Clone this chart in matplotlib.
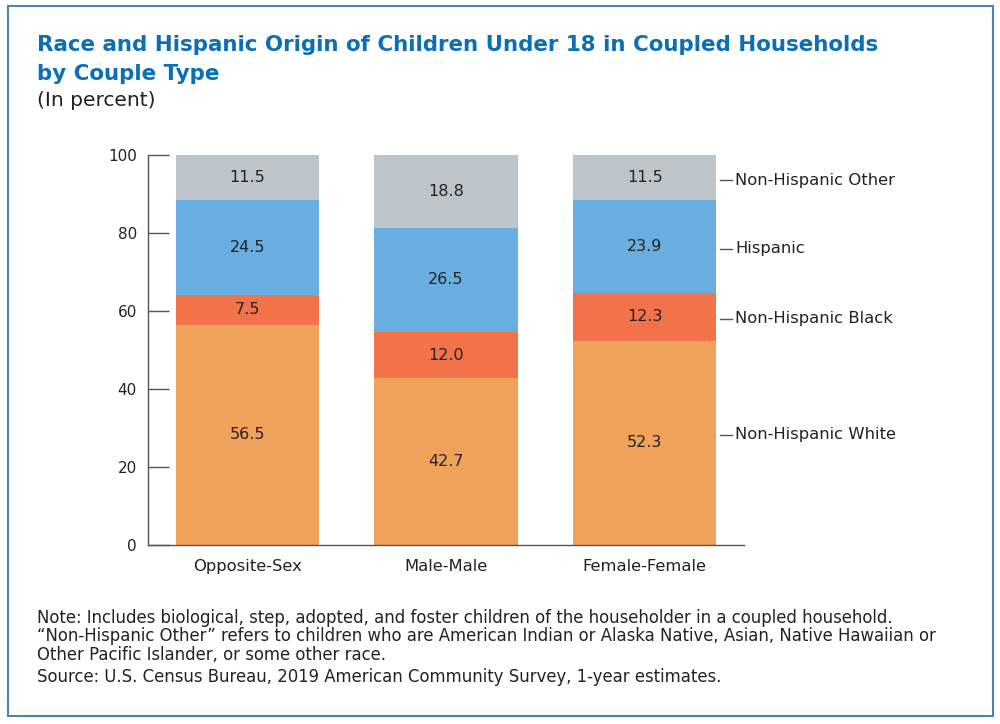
import matplotlib
matplotlib.use("Agg")
import matplotlib.pyplot as plt
from matplotlib.patches import Rectangle

# Data
couple_types = ["Opposite-Sex", "Male-Male", "Female-Female"]
groups = ["Non-Hispanic White", "Non-Hispanic Black", "Hispanic", "Non-Hispanic Other"]
white = [56.5, 42.7, 52.3]
black = [7.5, 12.0, 12.3]
hispanic = [24.5, 26.5, 23.9]
other = [11.5, 18.8, 11.5]
label_y = [28.2, 58.0, 76.0, 93.5]

colors = ["#f0a15a", "#f27249", "#68aee0", "#bdc5cb"]

plt.rcParams["font.family"] = ["DejaVu Sans"]

fig = plt.figure(figsize=(10, 7.24), dpi=100)
ax = fig.add_axes([0.148, 0.2473, 0.596, 0.5387])

series = [white, black, hispanic, other]
x = range(len(couple_types))
bottom = [0, 0, 0]
for vals, col in zip(series, colors):
    ax.bar(x, vals, width=0.72, bottom=bottom, color=col, edgecolor="none")
    for i, v in enumerate(vals):
        ax.text(i, bottom[i] + v / 2, f"{v:.1f}", ha="center", va="center",
                fontsize=11.5, color="#222222")
    bottom = [b + v for b, v in zip(bottom, vals)]

ax.set_xlim(-0.5, 2.5)
ax.set_ylim(0, 100)
ax.set_yticks([0, 20, 40, 60, 80, 100])
ax.set_xticks(list(x))
ax.set_xticklabels(couple_types, fontsize=11.8, color="#222222")
ax.tick_params(axis="x", length=0, pad=10)
ax.tick_params(axis="y", direction="in", length=15, width=1, color="#555555",
               labelsize=11, labelcolor="#222222", pad=8)
for s in ["top", "right"]:
    ax.spines[s].set_visible(False)
for s in ["left", "bottom"]:
    ax.spines[s].set_color("#555555")
    ax.spines[s].set_linewidth(1)

# right-side category labels with short leader lines
for name, yv in zip(groups, label_y):
    ax.plot([2.38, 2.44], [yv, yv], color="#555555", lw=1, clip_on=False)
    ax.text(2.455, yv, name, ha="left", va="center", fontsize=11.8,
            color="#222222", clip_on=False)

fig.text(0.037, 0.938, "Race and Hispanic Origin of Children Under 18 in Coupled Households",
         fontsize=15.4, fontweight="bold", color="#0b6fb8", va="center")
fig.text(0.037, 0.898, "by Couple Type",
         fontsize=15.4, fontweight="bold", color="#0b6fb8", va="center")
fig.text(0.037, 0.861, "(In percent)", fontsize=14.5, color="#222222", va="center")

notes = [
    (0.147, "Note: Includes biological, step, adopted, and foster children of the householder in a coupled household."),
    (0.121, "\u201cNon-Hispanic Other\u201d refers to children who are American Indian or Alaska Native, Asian, Native Hawaiian or"),
    (0.095, "Other Pacific Islander, or some other race."),
    (0.065, "Source: U.S. Census Bureau, 2019 American Community Survey, 1-year estimates."),
]
for yy, t in notes:
    fig.text(0.037, yy, t, fontsize=11.9, color="#222222", va="center")

fig.patches.append(Rectangle((0.008, 0.011), 0.985, 0.981, transform=fig.transFigure,
                             fill=False, edgecolor="#4f80b3", linewidth=1.5))

fig.savefig("out.png", dpi=100)
